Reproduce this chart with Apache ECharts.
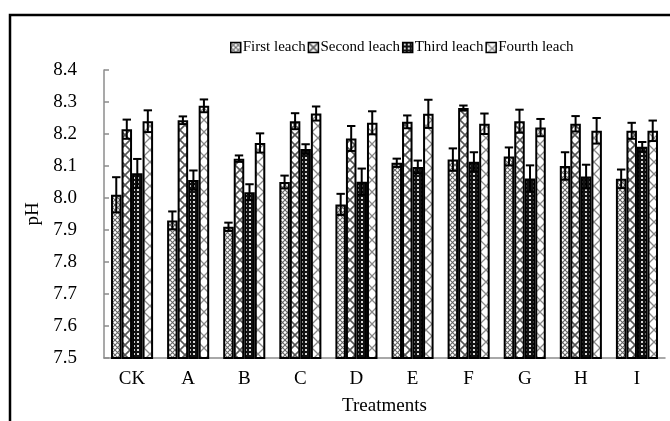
<!DOCTYPE html>
<html>
<head>
<meta charset="utf-8">
<script src="https://cdn.jsdelivr.net/npm/echarts@6/dist/echarts.min.js"></script>
<style>html,body{margin:0;padding:0;background:#fff}#c{width:670px;height:421px}</style>
</head>
<body>
<div id="c"></div>
<script>
const categories = ['CK','A','B','C','D','E','F','G','H','I'];
const seriesNames = ['First leach','Second leach','Third leach','Fourth leach'];
const firstLeach  = [8.01, 7.93, 7.91, 8.05, 7.98, 8.11, 8.12, 8.13, 8.10, 8.06];
const firstErr    = [0.055,0.028,0.013,0.020,0.033,0.013,0.035,0.028,0.043,0.029];
const secondLeach = [8.215,8.243,8.123,8.240,8.186,8.238,8.281,8.240,8.232,8.210];
const secondErr   = [0.030,0.012,0.010,0.025,0.039,0.020,0.008,0.036,0.024,0.025];
const thirdLeach  = [8.077,8.056,8.018,8.153,8.051,8.097,8.113,8.061,8.067,8.160];
const thirdErr    = [0.045,0.030,0.025,0.015,0.041,0.020,0.030,0.041,0.037,0.015];
const fourthLeach = [8.240,8.288,8.172,8.264,8.235,8.263,8.232,8.220,8.210,8.210];
const fourthErr   = [0.034,0.020,0.030,0.022,0.036,0.044,0.032,0.027,0.040,0.032];
const yTicks = [7.5,7.6,7.7,7.8,7.9,8.0,8.1,8.2,8.3,8.4];

const values = [firstLeach, secondLeach, thirdLeach, fourthLeach];
const errs = [firstErr, secondErr, thirdErr, fourthErr];

function pattern(kind){
  const c = document.createElement('canvas');
  let s;
  if (kind === 0) { s = 5; } else if (kind === 1) { s = 10; } else if (kind === 2) { s = 4; } else { s = 12; }
  c.width = s; c.height = s;
  const g = c.getContext('2d');
  if (kind === 2) {
    g.fillStyle = '#111'; g.fillRect(0,0,s,s);
    g.fillStyle = '#d8d8d8'; g.fillRect(1,1,2,2);
    return c;
  }
  g.fillStyle = '#fff'; g.fillRect(0,0,s,s);
  g.strokeStyle = kind === 0 ? '#666' : (kind === 1 ? '#555' : '#888');
  g.lineWidth = kind === 0 ? 1.1 : (kind === 1 ? 1.6 : 1.3);
  g.beginPath();
  g.moveTo(0,0); g.lineTo(s,s);
  g.moveTo(s,0); g.lineTo(0,s);
  g.stroke();
  return c;
}

const GAP = 0.25;
const font = '"Liberation Serif", "Times New Roman", serif';
const series = [];
values.forEach((vals, i) => {
  series.push({
    name: seriesNames[i], type: 'bar', data: vals, clip: true,
    barGap: '0%', barCategoryGap: (GAP*100)+'%',
    itemStyle: { color: { image: pattern(i), repeat: 'repeat' }, borderColor: '#000', borderWidth: 2 },
    z: 2
  });
});
values.forEach((vals, i) => {
  series.push({
    name: seriesNames[i] + ' err', type: 'custom', z: 5,
    data: vals.map((v, k) => [k, v, errs[i][k]]),
    renderItem: function(params, api){
      const k = api.value(0), v = api.value(1), e = api.value(2);
      const band = api.size([1, 0])[0];
      const bw = band * (1 - GAP) / 4;
      const cx = api.coord([k, v])[0] - band*(1-GAP)/2 + bw*(i+0.5);
      const yt = api.coord([k, v + e])[1];
      const yb = api.coord([k, v - e])[1];
      const hw = bw * 0.4;
      const st = { stroke: '#000', lineWidth: 2 };
      return { type: 'group', children: [
        { type: 'line', shape: { x1: cx, y1: yt, x2: cx, y2: yb }, style: st },
        { type: 'line', shape: { x1: cx-hw, y1: yt, x2: cx+hw, y2: yt }, style: st },
        { type: 'line', shape: { x1: cx-hw, y1: yb, x2: cx+hw, y2: yb }, style: st }
      ]};
    }
  });
});

const chart = echarts.init(document.getElementById('c'), null, { renderer: 'canvas' });
chart.setOption({
  animation: false,
  backgroundColor: '#fff',
  textStyle: { fontFamily: font },
  grid: { left: 104, right: 5, top: 70, bottom: 58 },
  legend: {
    data: seriesNames, top: 35, left: 225, itemGap: 2, itemWidth: 10, itemHeight: 10,
    icon: 'rect', selectedMode: false,
    itemStyle: { borderColor: '#000', borderWidth: 1.5 },
    textStyle: { fontFamily: font, fontSize: 15, color: '#000', padding: [0,0,0,-3] }
  },
  xAxis: {
    type: 'category', data: categories,
    name: 'Treatments', nameLocation: 'middle', nameGap: 39,
    nameTextStyle: { fontFamily: font, fontSize: 19, color: '#000' },
    axisLine: { lineStyle: { color: '#8c8c8c', width: 1.5 } },
    axisTick: { inside: true, length: 5, lineStyle: { color: '#8c8c8c', width: 1.5 } },
    axisLabel: { fontFamily: font, fontSize: 19, color: '#000', margin: 12 }
  },
  yAxis: {
    type: 'value', min: yTicks[0], max: yTicks[yTicks.length-1], interval: 0.1,
    name: 'pH', nameLocation: 'middle', nameGap: 60,
    nameTextStyle: { fontFamily: font, fontSize: 19, color: '#000' },
    splitLine: { show: false },
    axisLine: { show: true, lineStyle: { color: '#8c8c8c', width: 1.5 } },
    axisTick: { show: true, inside: true, length: 5, lineStyle: { color: '#8c8c8c', width: 1.5 } },
    axisLabel: { fontFamily: font, fontSize: 19, color: '#000', margin: 27,
      formatter: v => v.toFixed(1) }
  },
  graphic: [{
    type: 'polyline', silent: true,
    shape: { points: [[10, 421], [10, 15], [670, 15]] },
    style: { stroke: '#000', lineWidth: 2.5, fill: null }
  }],
  series: series
});
</script>
</body>
</html>
